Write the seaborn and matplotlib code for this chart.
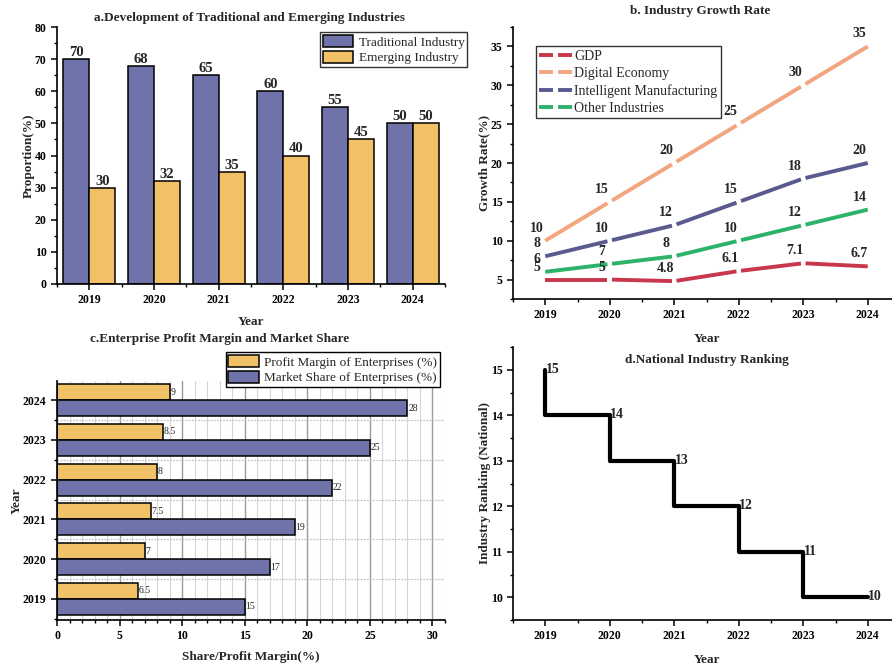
import numpy as np
import pandas as pd
import matplotlib
matplotlib.use('Agg')
import matplotlib.pyplot as plt
from matplotlib.lines import Line2D
from matplotlib.ticker import MultipleLocator, FixedLocator
import seaborn as sns

# data
years = ['2019', '2020', '2021', '2022', '2023', '2024']
year_nums = [2019, 2020, 2021, 2022, 2023, 2024]

traditional = [70, 68, 65, 60, 55, 50]
emerging = [30, 32, 35, 40, 45, 50]

gdp = [5, 5, 4.8, 6.1, 7.1, 6.7]
digital = [10, 15, 20, 25, 30, 35]
intelligent = [8, 10, 12, 15, 18, 20]
other = [6, 7, 8, 10, 12, 14]

profit = [6.5, 7, 7.5, 8, 8.5, 9]
market = [15, 17, 19, 22, 25, 28]

ranking = [15, 14, 13, 12, 11, 10]

PURPLE = '#6F73AA'
ORANGE = '#F0C167'

sns.set_theme(style='ticks')
plt.rcParams['font.family'] = ['Liberation Serif', 'DejaVu Serif']
plt.rcParams['axes.linewidth'] = 1.2
plt.rcParams['xtick.major.width'] = 1.1
plt.rcParams['ytick.major.width'] = 1.1
plt.rcParams['xtick.minor.width'] = 1.0
plt.rcParams['ytick.minor.width'] = 1.0
plt.rcParams['xtick.major.size'] = 4
plt.rcParams['ytick.major.size'] = 4
plt.rcParams['xtick.minor.size'] = 2.5
plt.rcParams['ytick.minor.size'] = 2.5
plt.rcParams['xtick.color'] = 'black'
plt.rcParams['ytick.color'] = 'black'
plt.rcParams['axes.edgecolor'] = 'black'

W, H = 892, 664
fig = plt.figure(figsize=(W / 100, H / 100), dpi=100)


def box(l, r, t, b):
    return [l / W, 1 - b / H, (r - l) / W, (b - t) / H]


ax_a = fig.add_axes(box(57, 445, 27, 284))
ax_b = fig.add_axes(box(513, 900, 27, 299))
ax_c = fig.add_axes(box(57, 445, 381, 620))
ax_d = fig.add_axes(box(513, 900, 347, 620))

for ax in (ax_a, ax_b, ax_c, ax_d):
    sns.despine(ax=ax)

TICK_FONT = dict(fontsize=8.5, fontweight='bold')
LABEL_FONT = dict(fontsize=9.5, fontweight='bold')
TITLE_FONT = dict(fontsize=9.5, fontweight='bold')

# ---------------- a. bars
df_a = pd.DataFrame({
    'Year': years * 2,
    'value': traditional + emerging,
    'series': ['Traditional Industry'] * 6 + ['Emerging Industry'] * 6,
})
sns.barplot(data=df_a, x='Year', y='value', hue='series',
            palette=[PURPLE, ORANGE], edgecolor='black', linewidth=1.1,
            saturation=1, ax=ax_a, legend=False)
for cont in ax_a.containers:
    ax_a.bar_label(cont, fmt='%g', fontsize=10.5, fontweight='bold', padding=0)
ax_a.set_xlim(-0.5, 5.5)
ax_a.set_ylim(0, 80)
ax_a.set_xticks(range(6), years, **TICK_FONT)
ax_a.set_yticks(range(0, 81, 10), [str(v) for v in range(0, 81, 10)], **TICK_FONT)
ax_a.yaxis.set_minor_locator(MultipleLocator(5))
ax_a.xaxis.set_minor_locator(MultipleLocator(0.5))
ax_a.set_xlabel('Year', labelpad=7, **LABEL_FONT)
ax_a.set_ylabel('Proportion(%)', labelpad=0, **LABEL_FONT)
leg = ax_a.legend(ax_a.containers[:2], ['Traditional Industry', 'Emerging Industry'],
                  loc='upper right', bbox_to_anchor=(1.057, 0.98), fontsize=9.5,
                  handlelength=2.3, handleheight=1.1, labelspacing=0.15,
                  borderpad=0.2, handletextpad=0.4, borderaxespad=0,
                  frameon=True, fancybox=False, edgecolor='black')
leg.get_frame().set_linewidth(1.0)
fig.text(250 / W, 1 - 18 / H, 'a.Development of Traditional and Emerging Industries',
         ha='center', va='center', **TITLE_FONT)

# ---------------- b. lines
line_series = [
    ('GDP', gdp, '#C8374C'),
    ('Digital Economy', digital, '#F2A57E'),
    ('Intelligent Manufacturing', intelligent, '#5A5A8E'),
    ('Other Industries', other, '#2DB26A'),
]
gap = 0.035
handles = []
for name, vals, col in line_series:
    n = len(vals)
    for i in range(n - 1):
        x0, x1 = year_nums[i], year_nums[i + 1]
        y0, y1 = vals[i], vals[i + 1]
        s = 0 if i == 0 else gap
        e = 0 if i == n - 2 else gap
        ax_b.plot([x0 + s * (x1 - x0), x1 - e * (x1 - x0)],
                  [y0 + s * (y1 - y0), y1 - e * (y1 - y0)],
                  color=col, lw=2.8, solid_capstyle='butt')
    for x, y in zip(year_nums, vals):
        ax_b.annotate(f'{y:g}', (x, y), xytext=(-6, 9), textcoords='offset points',
                      ha='center', va='center', fontsize=10, fontweight='bold')
    handles.append(Line2D([], [], color=col, lw=2.8, linestyle=(0, (3.6, 1.3))))
ax_b.set_xlim(2018.5, 2024.5)
ax_b.set_ylim(2.5, 37.5)
ax_b.set_xticks(year_nums, years, **TICK_FONT)
ax_b.xaxis.set_minor_locator(MultipleLocator(0.5))
ax_b.set_yticks(range(5, 36, 5), [str(v) for v in range(5, 36, 5)], **TICK_FONT)
ax_b.yaxis.set_minor_locator(MultipleLocator(2.5))
ax_b.set_xlabel('Year', labelpad=8, **LABEL_FONT)
ax_b.set_ylabel('Growth Rate(%)', labelpad=0, **LABEL_FONT)
leg = ax_b.legend(handles, [s[0] for s in line_series], loc='upper left',
                  bbox_to_anchor=(0.0594, 0.93), fontsize=10, handlelength=2.4,
                  labelspacing=0.3, borderpad=0.25, handletextpad=0.1,
                  borderaxespad=0, frameon=True, fancybox=False, edgecolor='black')
leg.get_frame().set_linewidth(1.0)
fig.text(700 / W, 1 - 11 / H, 'b. Industry Growth Rate', ha='center', va='center',
         **TITLE_FONT)

# ---------------- c. horizontal bars
rev = years[::-1]
df_c = pd.DataFrame({
    'Year': years * 2,
    'value': profit + market,
    'series': ['Profit Margin of Enterprises (%)'] * 6 + ['Market Share of Enterprises (%)'] * 6,
})
ax_c.set_axisbelow(True)
sns.barplot(data=df_c, x='value', y='Year', hue='series', orient='h', order=rev,
            hue_order=['Profit Margin of Enterprises (%)', 'Market Share of Enterprises (%)'],
            palette=[ORANGE, PURPLE], edgecolor='black', linewidth=1.1,
            saturation=1, ax=ax_c, legend=False)
for cont in ax_c.containers:
    ax_c.bar_label(cont, fmt='%g', fontsize=7, padding=0.5)
ax_c.set_xlim(0, 31)
ax_c.set_ylim(5.53, -0.48)
ax_c.set_xticks(range(0, 31, 5), [str(v) for v in range(0, 31, 5)], **TICK_FONT)
ax_c.xaxis.set_minor_locator(MultipleLocator(1))
ax_c.set_yticks(range(6), rev, **TICK_FONT)
ax_c.yaxis.set_minor_locator(FixedLocator(np.arange(-0.5, 6, 1.0)))
ax_c.grid(axis='x', which='major', color='#9A9A9A', lw=1.0, ls='-')
ax_c.grid(axis='x', which='minor', color='#D6D6D6', lw=0.8, ls='-')
ax_c.grid(axis='y', which='minor', color='#C4C4C4', lw=0.9, ls=(0, (1.5, 1)))
ax_c.grid(axis='y', which='major', visible=False)
ax_c.set_xlabel('Share/Profit Margin(%)', labelpad=6, **LABEL_FONT)
ax_c.set_ylabel('Year', labelpad=0, **LABEL_FONT)
leg = ax_c.legend(ax_c.containers[:2],
                  ['Profit Margin of Enterprises (%)', 'Market Share of Enterprises (%)'],
                  loc='upper right', bbox_to_anchor=(0.986, 1.121), fontsize=9.5,
                  handlelength=2.3, handleheight=1.1, labelspacing=0.15,
                  borderpad=0.2, handletextpad=0.4, borderaxespad=0,
                  frameon=True, fancybox=False, edgecolor='black', framealpha=1)
leg.get_frame().set_linewidth(1.0)
fig.text(220 / W, 1 - 339 / H, 'c.Enterprise Profit Margin and Market Share',
         ha='center', va='center', **TITLE_FONT)

# ---------------- d. step line
sns.lineplot(x=year_nums, y=ranking, drawstyle='steps-pre', color='black',
             lw=3, ax=ax_d)
for x, y in zip(year_nums, ranking):
    ax_d.annotate(str(y), (x, y), xytext=(0.5, 0.5), textcoords='offset points',
                  ha='left', va='center', fontsize=10, fontweight='bold')
ax_d.set_xlim(2018.5, 2024.5)
ax_d.set_ylim(9.5, 15.5)
ax_d.set_xticks(year_nums, years, **TICK_FONT)
ax_d.xaxis.set_minor_locator(MultipleLocator(0.5))
ax_d.set_yticks(range(10, 16), [str(v) for v in range(10, 16)], **TICK_FONT)
ax_d.yaxis.set_minor_locator(MultipleLocator(0.5))
ax_d.set_xlabel('Year', labelpad=8, **LABEL_FONT)
ax_d.set_ylabel('Industry Ranking (National)', labelpad=0, **LABEL_FONT)
fig.text(707 / W, 1 - 360 / H, 'd.National Industry Ranking', ha='center',
         va='center', **TITLE_FONT)

fig.savefig('out.png', dpi=100)
